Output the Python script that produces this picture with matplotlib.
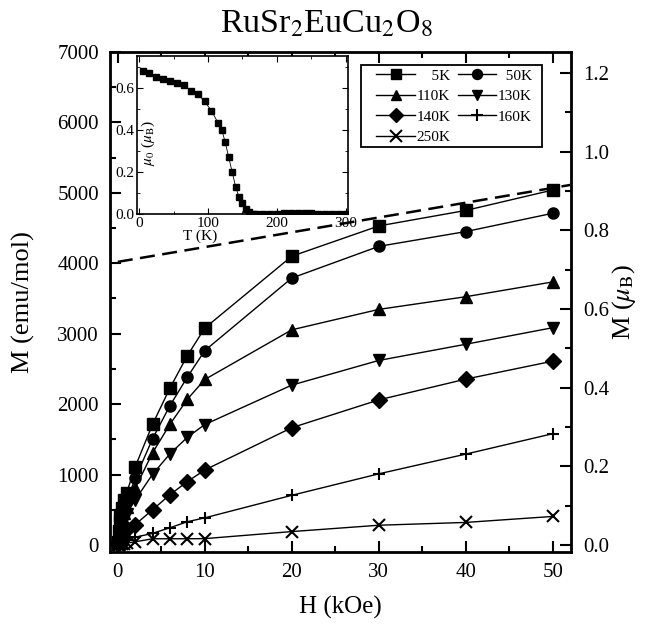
import matplotlib
matplotlib.use("Agg")
import matplotlib.pyplot as plt
from matplotlib.ticker import MultipleLocator, FormatStrFormatter
from matplotlib.patches import Rectangle

plt.rcParams['font.family'] = ['Liberation Serif', 'DejaVu Serif']
plt.rcParams['mathtext.fontset'] = 'stix'

# ---- data ----
H = [0, 0.1, 0.2, 0.3, 0.5, 0.75, 1.0, 2, 4, 6, 8, 10, 20, 30, 40, 50]
M_5K   = [40, 200, 320, 420, 530, 640, 735, 1110, 1715, 2230, 2690, 3080, 4100, 4530, 4750, 5040]
M_50K  = [30, 160, 260, 340, 440, 540, 620, 945, 1510, 1980, 2385, 2760, 3790, 4240, 4450, 4710]
M_110K = [25, 130, 210, 280, 370, 460, 540, 805, 1310, 1715, 2070, 2350, 3055, 3345, 3525, 3735]
M_130K = [20, 100, 170, 230, 300, 380, 440, 640, 1005, 1295, 1530, 1710, 2270, 2620, 2850, 3085]
M_140K = [10, 50, 90, 120, 160, 200, 230, 290, 500, 715, 900, 1065, 1665, 2060, 2355, 2610]
M_160K = [0, 15, 25, 35, 45, 60, 70, 110, 165, 245, 330, 385, 705, 1010, 1290, 1580]
M_250K = [0, 5, 8, 10, 15, 20, 25, 45, 88, 88, 88, 90, 190, 280, 320, 405]

labels = ["5K", "50K", "110K", "130K", "140K", "160K", "250K"]
markers = ["s", "o", "^", "v", "D", "+", "x"]
series_M = [M_5K, M_50K, M_110K, M_130K, M_140K, M_160K, M_250K]

# high-field linear extrapolation (dashed)
H_fit = [0, 52]
M_fit = [4020, 5112]

# inset: mu_0 vs T
T_in = [5, 15, 25, 35, 45, 55, 65, 75, 85, 95, 105, 115, 120, 125, 130, 135, 140,
        145, 150, 155, 160, 165, 170, 180, 190, 200, 210, 220, 230, 240, 250,
        260, 270, 280, 290, 300]
mu_in = [0.68, 0.67, 0.65, 0.64, 0.63, 0.62, 0.61, 0.585, 0.57, 0.535, 0.49, 0.43,
         0.40, 0.34, 0.27, 0.20, 0.13, 0.08, 0.053, 0.026, 0.008, 0.0, 0.0, 0.0,
         0.0, 0.0, 0.005, 0.005, 0.005, 0.005, 0.005, 0.0, 0.0, 0.0, 0.0, 0.0]

CONV = 5585.0  # emu/mol per mu_B

fig = plt.figure(figsize=(6.52, 6.25), dpi=100)
ax = fig.add_axes([0.1687, 0.1168, 0.7071, 0.8])

handles = {}
for name, M, mk in zip(labels, series_M, markers):
    ms = 8 if mk not in ("+", "x") else 9
    mew = 1.5 if mk in ("+", "x") else 1
    ln, = ax.plot(H, M, color='black', lw=1.0, marker=mk, ms=ms,
                  mfc='black', mec='black', mew=mew, label=name)
    handles[name] = ln

ax.plot(H_fit, M_fit, color='black', lw=1.8, ls=(0, (6, 3)))

ax.set_xlim(-0.9, 52.1)
ax.set_ylim(-100, 7000)
ax.xaxis.set_major_locator(MultipleLocator(10))
ax.xaxis.set_minor_locator(MultipleLocator(5))
ax.yaxis.set_major_locator(MultipleLocator(1000))
ax.yaxis.set_minor_locator(MultipleLocator(500))
ax.tick_params(which='both', direction='in', top=True, right=False,
               labelsize=15, width=1.5, pad=8)
ax.tick_params(which='major', length=8)
ax.tick_params(which='minor', length=4)
for s in ax.spines.values():
    s.set_linewidth(2)
ax.set_xlabel("H (kOe)", fontsize=18, labelpad=10)
ax.set_ylabel("M (emu/mol)", fontsize=19, labelpad=16)
fig.text(0.5, 1 - 24 / 625, "RuSr$_2$EuCu$_2$O$_8$", fontsize=24.5,
         ha='center', va='center')

ax2 = ax.twinx()
ax2.set_ylim(-100 / CONV, 7000 / CONV)
ax2.yaxis.set_major_locator(MultipleLocator(0.2))
ax2.yaxis.set_minor_locator(MultipleLocator(0.1))
ax2.yaxis.set_major_formatter(FormatStrFormatter('%.1f'))
ax2.tick_params(which='both', direction='in', labelsize=15, width=1.5, pad=9)
ax2.tick_params(which='major', length=8)
ax2.tick_params(which='minor', length=4)
ax2.set_ylabel(r"M ($\mu_{\rm B}$)", fontsize=19, labelpad=0)

# legend (row-wise order across two columns), with separately drawn frame
order = ["5K", "110K", "140K", "250K", "50K", "130K", "160K"]
shown = {"5K": "    5K", "50K": "  50K", "110K": "110K", "130K": "130K",
         "140K": "140K", "160K": "160K", "250K": "250K"}
leg = ax.legend([handles[n] for n in order], [shown[n] for n in order], ncol=2,
                loc='upper left', bbox_to_anchor=(0.578, 0.966),
                fontsize=11, frameon=False, handlelength=2.5,
                handletextpad=0.1, columnspacing=0.5, labelspacing=0.45,
                borderpad=0, borderaxespad=0, markerscale=0.9)
ax.add_patch(Rectangle((0.5445, 0.81), 0.3925, 0.164, transform=ax.transAxes,
                       fill=False, edgecolor='black', lw=1.3, zorder=5))

# inset
axi = fig.add_axes([0.2101, 0.6576, 0.3236, 0.2528])
axi.plot(T_in, mu_in, color='black', lw=0.6, marker='s', ms=4.5,
         mfc='black', mec='black')
axi.set_xlim(-3, 303)
axi.set_ylim(0, 0.75)
axi.xaxis.set_major_locator(MultipleLocator(100))
axi.xaxis.set_minor_locator(MultipleLocator(50))
axi.yaxis.set_major_locator(MultipleLocator(0.2))
axi.yaxis.set_minor_locator(MultipleLocator(0.1))
axi.yaxis.set_major_formatter(FormatStrFormatter('%.1f'))
axi.tick_params(which='both', direction='in', top=True, right=True,
                labelsize=11, pad=2)
axi.tick_params(which='major', length=4)
axi.tick_params(which='minor', length=2)
for s in axi.spines.values():
    s.set_linewidth(1.2)
axi.text(0.3, -0.1, "T (K)", transform=axi.transAxes, fontsize=11,
         ha='center', va='top')
axi.text(0.055, 0.45, r"$\mu_0$ ($\mu_{\rm B}$)", transform=axi.transAxes,
         fontsize=11, rotation=90, ha='center', va='center')

fig.savefig("out.png", dpi=100)
